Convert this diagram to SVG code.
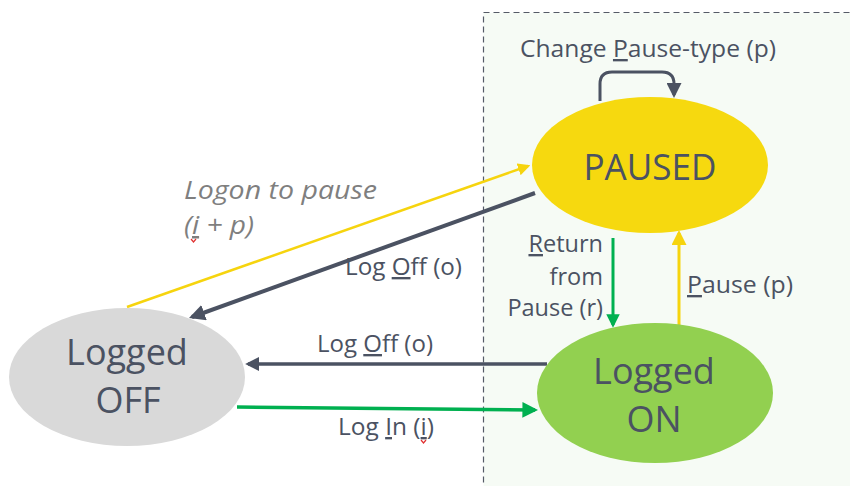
<svg xmlns="http://www.w3.org/2000/svg" width="850" height="486" viewBox="0 0 850 486">
<defs>
<style>
.lbl{font-family:"Open Sans","Liberation Sans",sans-serif;font-size:23.5px;fill:#4b5262}
.node{font-family:"Open Sans","Liberation Sans",sans-serif;font-size:36px;fill:#4b5262;text-anchor:middle}
.it{font-family:"Open Sans","Liberation Sans",sans-serif;font-size:25px;fill:#7f7f7f;font-style:italic}
.u{text-decoration:underline}
</style>
<marker id="aDark" viewBox="0 0 10 10" refX="8" refY="5" markerWidth="4" markerHeight="4" orient="auto" markerUnits="strokeWidth"><path d="M0,0 L10,5 L0,10 z" fill="#4b5262"/></marker>
<marker id="aDarkS" viewBox="0 0 10 10" refX="8" refY="5" markerWidth="5" markerHeight="5" orient="auto" markerUnits="strokeWidth"><path d="M0,0 L10,5 L0,10 z" fill="#4b5262"/></marker>
<marker id="aYel" viewBox="0 0 10 10" refX="8" refY="5" markerWidth="5" markerHeight="5" orient="auto" markerUnits="strokeWidth"><path d="M0,0 L10,5 L0,10 z" fill="#f6d40e"/></marker>
<marker id="aGrn" viewBox="0 0 10 10" refX="8" refY="5" markerWidth="4.5" markerHeight="4.5" orient="auto" markerUnits="strokeWidth"><path d="M0,0 L10,5 L0,10 z" fill="#00b050"/></marker>
</defs>
<rect x="0" y="0" width="850" height="486" fill="#ffffff"/>
<rect id="region" x="483.5" y="12.5" width="380" height="490" fill="#f6fbf5" stroke="#555a66" stroke-width="1.2" stroke-dasharray="6,4"/>

<g id="connectors" fill="none">
<path d="M600,101 V84 Q600,72 612,72 H662 Q674,72 674,84 V95" stroke="#4b5262" stroke-width="3" marker-end="url(#aDarkS)"/>
<line x1="127" y1="307" x2="528" y2="166" stroke="#f6d40e" stroke-width="2.5" marker-end="url(#aYel)"/>
<line x1="535" y1="193" x2="192" y2="317" stroke="#4b5262" stroke-width="4" marker-end="url(#aDark)"/>
<line x1="547" y1="364" x2="248" y2="364" stroke="#4b5262" stroke-width="3.5" marker-end="url(#aDark)"/>
<line x1="237" y1="407" x2="535" y2="410" stroke="#00b050" stroke-width="3.5" marker-end="url(#aGrn)"/>
<line x1="613" y1="238" x2="613" y2="325" stroke="#00b050" stroke-width="3" marker-end="url(#aGrn)"/>
<line x1="679" y1="325" x2="679" y2="233" stroke="#f6d40e" stroke-width="3" marker-end="url(#aYel)"/>
</g>

<g id="labels">
<text class="lbl" x="520" y="57" textLength="256" lengthAdjust="spacingAndGlyphs">Change <tspan class="u">P</tspan>ause-type (p)</text>
<text class="it" x="184" y="199" textLength="193" lengthAdjust="spacingAndGlyphs">Logon to pause</text>
<text class="it" x="184" y="234" textLength="70" lengthAdjust="spacingAndGlyphs">(<tspan class="u">i</tspan> + p)</text>
<path d="M191,239 l2.5,3 l2.5,-3" stroke="#e03030" stroke-width="1.2" fill="none"/>
<text class="lbl" x="345" y="275" textLength="117" lengthAdjust="spacingAndGlyphs">Log <tspan class="u">O</tspan>ff (o)</text>
<text class="lbl" x="603" y="252" text-anchor="end"><tspan class="u">R</tspan>eturn</text>
<text class="lbl" x="603" y="285" text-anchor="end">from</text>
<text class="lbl" x="603" y="316" text-anchor="end">Pause (r)</text>
<text class="lbl" x="687" y="293" textLength="106" lengthAdjust="spacingAndGlyphs"><tspan class="u">P</tspan>ause (p)</text>
<text class="lbl" x="317" y="352" textLength="116" lengthAdjust="spacingAndGlyphs">Log <tspan class="u">O</tspan>ff (o)</text>
<text class="lbl" x="338" y="435" textLength="96" lengthAdjust="spacingAndGlyphs">Log <tspan class="u">I</tspan>n (<tspan class="u">i</tspan>)</text>
<path d="M421,440 l2.5,3 l2.5,-3" stroke="#e03030" stroke-width="1.2" fill="none"/>
</g>

<g id="paused">
<ellipse cx="650" cy="165" rx="118" ry="68" fill="#f6d90f"/>
<text class="node" x="650" y="180" textLength="133" lengthAdjust="spacingAndGlyphs">PAUSED</text>
</g>
<g id="logged-on">
<ellipse cx="655" cy="393" rx="118" ry="70" fill="#92d050"/>
<text class="node" x="654" y="384">Logged</text>
<text class="node" x="654" y="432">ON</text>
</g>
<g id="logged-off">
<ellipse cx="127" cy="377" rx="118" ry="69" fill="#d9d9d9"/>
<text class="node" x="127" y="365">Logged</text>
<text class="node" x="128" y="413">OFF</text>
</g>
</svg>
